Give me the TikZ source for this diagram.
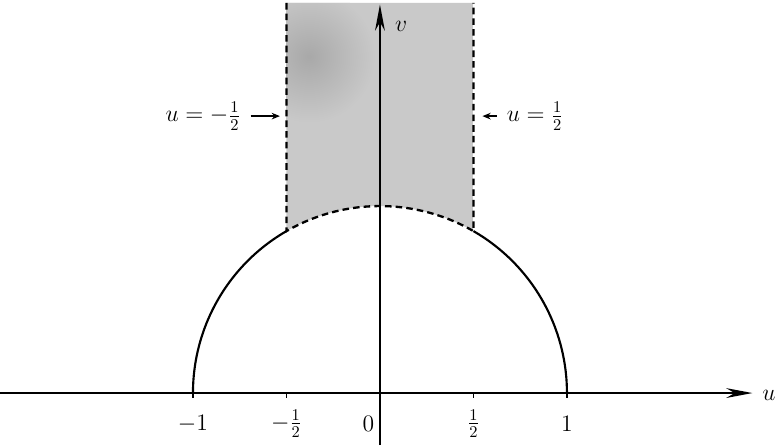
\documentclass[tikz,border=0pt]{standalone}
\usepackage{amsmath}
\usepackage{amsfonts}
\usepackage{tikz}
\usetikzlibrary{arrows.meta}

\tikzset{
  axis/.style={line width=1pt,-{Stealth[length=16pt,width=6pt]}},
  pointer/.style={line width=0.9pt,-{Stealth[length=5pt,width=4pt]}},
  boundary/.style={line width=1.4pt,dash pattern=on 4pt off 2.5pt},
  lab/.style={font=\fontsize{14.5}{17}\selectfont,inner sep=1pt}
}

\begin{document}
\begin{tikzpicture}[x=4cm,y=4cm,fill=gray!42]
    \useasboundingbox (-2.032,-0.278) rectangle (2.118,2.102);
    \scope
    \clip (-0.5,2.086) -- (-0.5,0.866) arc (120:60:1) -- (0.5,2.086) -- cycle;
    \fill (-0.5,0) rectangle (0.5,2.1);
    \shade[inner color=gray!68,outer color=gray!42] (-0.38,1.8) circle (0.36);
    \endscope
    \draw[line width=1.3pt] (1,0) arc (0:60:1) (-1,0) arc (180:120:1);
    \draw[boundary] (-0.5,2.086) -- (-0.5,0.866) arc (120:60:1) -- (0.5,2.086);
    % axes
    \coordinate (ustart) at (-2.032,0);
    \coordinate (uend) at (1.992,0);
    \coordinate (vstart) at (0,-0.278);
    \coordinate (vend) at (0,2.078);
    \draw[axis] (ustart) -- (uend);
    \draw[axis] (vstart) -- (vend);
    \node[lab,anchor=west] (ulab) at (2.035,-0.01) {$u$};
    \node[lab,anchor=west] (vlab) at (0.07,1.96) {$v$};
    % ticks
    \foreach \t in {-1,-0.5,0.5,1}
      \draw[line width=0.8pt] (\t,0) -- (\t,-0.025);
    \node[lab] (tm1) at (-1,-0.165) {$-1$};
    \node[lab] (tmh) at (-0.5,-0.165) {$-\tfrac12$};
    \node[lab,anchor=east] (t0) at (-0.02,-0.165) {$0$};
    \node[lab] (tph) at (0.5,-0.165) {$\tfrac12$};
    \node[lab] (tp1) at (1,-0.165) {$1$};
    % line labels
    \coordinate (lefthit) at (-0.535,1.481);
    \coordinate (righthit) at (0.548,1.481);
    \node[lab,anchor=east] (leftlab) at (-0.735,1.481) {$u=-\tfrac12$};
    \node[lab,anchor=west] (rightlab) at (0.668,1.481) {$u=\tfrac12$};
    \draw[pointer] ([xshift=5pt]leftlab.east) -- (lefthit);
    \draw[pointer] ([xshift=-5pt]rightlab.west) -- (righthit);
  \end{tikzpicture}
\end{document}
